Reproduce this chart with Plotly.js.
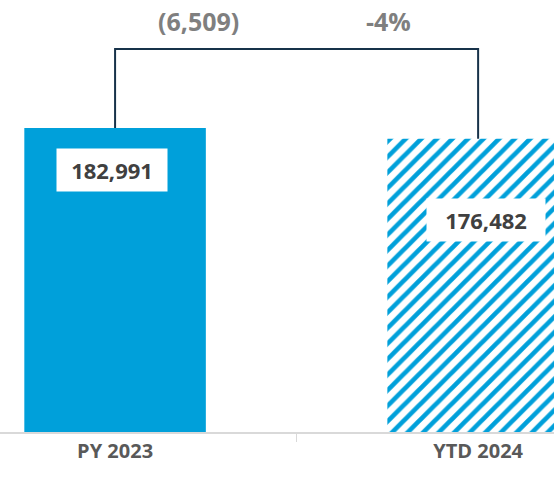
<!DOCTYPE html>
<html>
<head>
<meta charset="utf-8">
<script src="https://cdn.plot.ly/plotly-3.0.1.min.js"></script>
<style>html,body{margin:0;padding:0;background:#fff;}#chart{width:554px;height:478px;}</style>
</head>
<body>
<div id="chart"></div>
<script>
const categories = ['PY 2023', 'YTD 2024'];
const values = [182991, 176482];
const valueLabels = ['182,991', '176,482'];

const blue = '#00A0DA';
const diff = values[1] - values[0];
const diffText = diff < 0 ? '(' + Math.abs(diff).toLocaleString('en-US') + ')' : diff.toLocaleString('en-US');
const pctText = Math.round(diff / values[0] * 100) + '%';
const maxV = Math.max(...values);
const bracketTop = maxV * 1.26;
const yTop = maxV * 1.421;

const solidBar = {
  type: 'bar',
  x: [categories[0]],
  y: [values[0]],
  width: 0.5,
  marker: {color: blue, line: {width: 0}},
  hoverinfo: 'none'
};

const hatchBar = {
  type: 'bar',
  x: [categories[1]],
  y: [values[1]],
  width: 0.5,
  marker: {
    color: '#ffffff',
    line: {width: 0},
    pattern: {
      shape: '/',
      fgcolor: blue,
      fgopacity: 1,
      bgcolor: '#ffffff',
      size: 11,
      solidity: 0.42,
      fillmode: 'overlay'
    }
  },
  hoverinfo: 'none'
};

const bracket = {
  type: 'scatter',
  mode: 'lines',
  x: [categories[0], categories[0], categories[1], categories[1]],
  y: [values[0], bracketTop, bracketTop, values[1]],
  line: {color: '#17324A', width: 2},
  hoverinfo: 'none'
};

const layout = {
  width: 554,
  height: 478,
  margin: {l: 0, r: 0, t: 0, b: 46},
  paper_bgcolor: '#ffffff',
  plot_bgcolor: '#ffffff',
  showlegend: false,
  barmode: 'overlay',
  xaxis: {
    type: 'category',
    range: [-0.317, 1.209],
    showline: true,
    linecolor: '#D9D9D9',
    linewidth: 2,
    ticks: 'outside',
    tickson: 'boundaries',
    ticklen: 8,
    tickcolor: '#D9D9D9',
    tickwidth: 1,
    showgrid: false,
    zeroline: false,
    tickfont: {family: 'Open Sans', size: 20, color: '#595959', weight: 'bold'}
  },
  yaxis: {
    range: [0, yTop],
    visible: false,
    showgrid: false,
    zeroline: false
  },
  annotations: [
    {
      x: categories[0], y: values[0], xref: 'x', yref: 'y',
      text: valueLabels[0], showarrow: false,
      xanchor: 'center', yanchor: 'top', xshift: -3, yshift: -20,
      bgcolor: '#ffffff', width: 98, height: 30, borderpad: 6,
      font: {family: 'Open Sans', size: 22, color: '#404040', weight: 'bold'}
    },
    {
      x: categories[1], y: values[1], xref: 'x', yref: 'y',
      text: valueLabels[1], showarrow: false,
      xanchor: 'center', yanchor: 'top', xshift: 8, yshift: -59,
      bgcolor: '#ffffff', width: 106, height: 30, borderpad: 6,
      font: {family: 'Open Sans', size: 22, color: '#404040', weight: 'bold'}
    },
    {
      x: 0.23, y: 0.952, xref: 'x', yref: 'paper',
      text: diffText, showarrow: false, xanchor: 'center', yanchor: 'middle',
      font: {family: 'Open Sans', size: 25, color: '#7F7F7F', weight: 'bold'}
    },
    {
      x: 0.752, y: 0.952, xref: 'x', yref: 'paper',
      text: pctText, showarrow: false, xanchor: 'center', yanchor: 'middle',
      font: {family: 'Open Sans', size: 25, color: '#7F7F7F', weight: 'bold'}
    }
  ]
};

Plotly.newPlot('chart', [solidBar, hatchBar, bracket], layout, {displayModeBar: false, staticPlot: true});
</script>
</body>
</html>
